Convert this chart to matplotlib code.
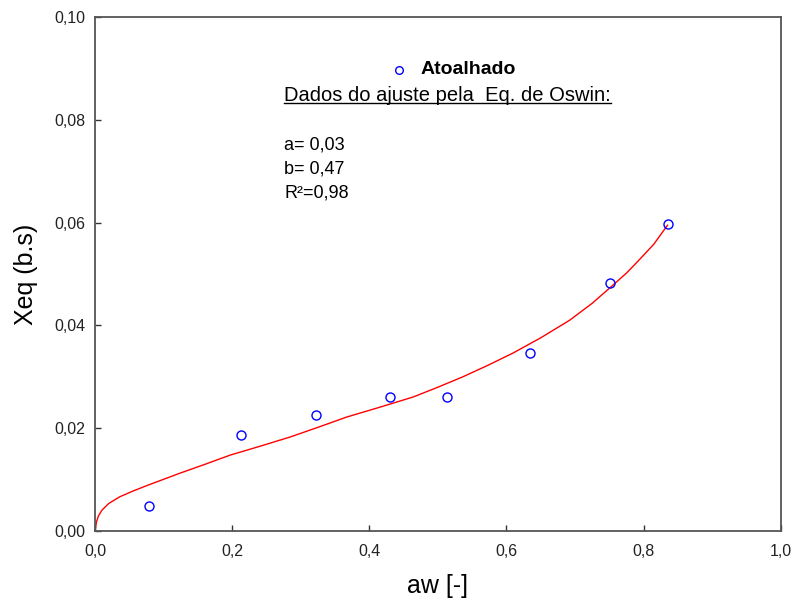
import matplotlib
matplotlib.use('Agg')
import matplotlib.pyplot as plt
from matplotlib.lines import Line2D
from matplotlib.ticker import FuncFormatter

plt.rcParams['font.family'] = ['Liberation Sans', 'DejaVu Sans']

# --- dados experimentais (Atoalhado) ---
aw_pts = [0.079, 0.213, 0.322, 0.430, 0.513, 0.634, 0.751, 0.835]
xeq_pts = [0.0049, 0.0187, 0.0226, 0.0261, 0.0261, 0.0346, 0.0482, 0.0597]

# --- curva ajustada ---
aw_fit = [0.0, 0.002, 0.005, 0.010, 0.020, 0.036, 0.055, 0.076, 0.100, 0.124, 0.160,
          0.197, 0.240, 0.284, 0.325, 0.367, 0.415, 0.464, 0.500, 0.536, 0.572,
          0.609, 0.650, 0.692, 0.725, 0.755, 0.776, 0.794, 0.815, 0.835]
xeq_fit = [0.0, 0.0018, 0.0030, 0.0041, 0.0054, 0.0067, 0.0078, 0.0089, 0.0101,
           0.0113, 0.0130, 0.0148, 0.0165, 0.0183, 0.0202, 0.0222, 0.0241, 0.0261,
           0.0280, 0.0300, 0.0322, 0.0346, 0.0376, 0.0410, 0.0443, 0.0478, 0.0503,
           0.0528, 0.0558, 0.0595]

params = ['a= 0,03', 'b= 0,47', 'R²=0,98']

fig = plt.figure(figsize=(7.99, 6.03), dpi=100)
ax = fig.add_axes([0.119, 0.119, 0.858, 0.853])

ax.plot(aw_fit, xeq_fit, color='red', lw=1.0)
ax.plot(aw_pts, xeq_pts, 'o', mfc='none', mec='blue', mew=1.0, ms=6.5)

ax.set_xlim(0, 1.0)
ax.set_ylim(0, 0.10)
ax.set_xticks([0, 0.2, 0.4, 0.6, 0.8, 1.0])
ax.set_yticks([0, 0.02, 0.04, 0.06, 0.08, 0.10])
ax.xaxis.set_major_formatter(FuncFormatter(lambda v, p: f'{v:.1f}'.replace('.', ',')))
ax.yaxis.set_major_formatter(FuncFormatter(lambda v, p: f'{v:.2f}'.replace('.', ',')))
ax.tick_params(direction='in', length=4, width=1, labelsize=11.5, colors='#333333',
               labelcolor='#222222')
ax.tick_params(axis='y', pad=7)
ax.tick_params(axis='x', pad=9)
for s in ax.spines.values():
    s.set_color('#555555')
    s.set_linewidth(1.3)

ax.set_xlabel('aw [-]', fontsize=18, labelpad=11)
ax.set_ylabel('Xeq (b.s)', fontsize=18, labelpad=12)

# legenda manual
ax.plot([0.443], [0.897], 'o', mfc='none', mec='blue', mew=1.0, ms=5.5,
        transform=ax.transAxes, clip_on=False)
ax.text(0.475, 0.897, 'Atoalhado', transform=ax.transAxes, fontsize=14,
        fontweight='bold', va='center', ha='left')
t = ax.text(0.276, 0.848, 'Dados do ajuste pela  Eq. de Oswin:', transform=ax.transAxes,
            fontsize=14.5, va='center', ha='left')
for i, s in enumerate(params):
    ax.text(0.276, 0.751 - i * 0.047, s, transform=ax.transAxes, fontsize=13,
            va='center', ha='left')

# sublinhado
fig.canvas.draw()
bb = t.get_window_extent().transformed(fig.transFigure.inverted())
fig.add_artist(Line2D([bb.x0, bb.x1], [bb.y0 + 0.002, bb.y0 + 0.002], color='black', lw=1.0))

fig.savefig('out.png', dpi=100)
